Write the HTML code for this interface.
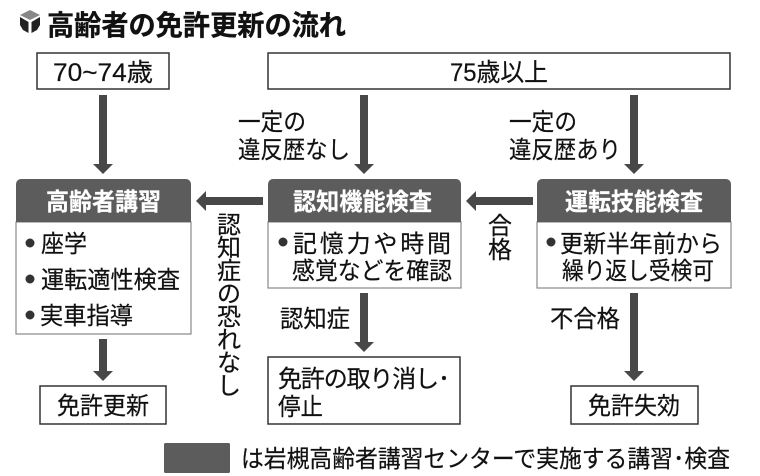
<!DOCTYPE html>
<html lang="ja">
<head>
<meta charset="utf-8">
<style>
html,body{margin:0;padding:0;background:#fff;width:760px;height:476px;overflow:hidden}
svg{display:block;filter:blur(0.3px)}
text{font-family:"Liberation Sans","Noto Sans CJK JP",sans-serif;font-size:24px;fill:#111;stroke:#111;stroke-width:0.2px}
.b{font-weight:700;stroke-width:0.3px}
.w{fill:#fff;stroke:#fff;font-weight:700;font-size:24px}
.v{text-anchor:middle}
</style>
</head>
<body>
<svg width="760" height="476" viewBox="0 0 760 476" xmlns="http://www.w3.org/2000/svg">
<!-- title -->
<polygon points="30,10 40,15 30,20 20,15" fill="#888"/>
<polygon points="20,17 28.5,22 28.5,33 23,30 20,25" fill="#222"/>
<polygon points="40,17 31.5,22 31.5,33 37,30 40,25" fill="#222"/>
<text x="47" y="35" class="b" style="font-size:28px" textLength="299" lengthAdjust="spacingAndGlyphs">高齢者の免許更新の流れ</text>

<!-- top boxes -->
<rect x="37" y="53" width="132" height="36" fill="#fff" stroke="#333" stroke-width="1.5"/>
<rect x="268" y="53" width="462" height="36" fill="#fff" stroke="#333" stroke-width="1.5"/>
<text x="53" y="81" style="font-size:25px" textLength="100" lengthAdjust="spacingAndGlyphs">70~74歳</text>
<text x="450" y="81" style="font-size:25px" textLength="98" lengthAdjust="spacingAndGlyphs">75歳以上</text>

<!-- main boxes -->
<rect x="16" y="222" width="175" height="112" fill="#fff" stroke="#888" stroke-width="1.2"/>
<path d="M16 222V184a5 5 0 0 1 5-5H186a5 5 0 0 1 5 5V222Z" fill="#5c5c5c"/>
<rect x="268" y="222" width="193" height="66" fill="#fff" stroke="#888" stroke-width="1.2"/>
<path d="M268 222V184a5 5 0 0 1 5-5H456a5 5 0 0 1 5 5V222Z" fill="#5c5c5c"/>
<rect x="537" y="222" width="194" height="66" fill="#fff" stroke="#888" stroke-width="1.2"/>
<path d="M537 222V184a5 5 0 0 1 5-5H726a5 5 0 0 1 5 5V222Z" fill="#5c5c5c"/>
<text x="46" y="210" class="w" textLength="115" lengthAdjust="spacingAndGlyphs">高齢者講習</text>
<text x="293" y="210" class="w" textLength="139" lengthAdjust="spacingAndGlyphs">認知機能検査</text>
<text x="565" y="210" class="w" textLength="138" lengthAdjust="spacingAndGlyphs">運転技能検査</text>

<!-- bullets -->
<g fill="#333">
<circle cx="30" cy="243" r="4.5"/>
<circle cx="30" cy="279" r="4.5"/>
<circle cx="30" cy="315" r="4.5"/>
<circle cx="283" cy="242" r="4.5"/>
<circle cx="551" cy="242" r="4.5"/>
</g>
<text x="41" y="252" textLength="46" lengthAdjust="spacingAndGlyphs">座学</text>
<text x="41" y="288" textLength="139" lengthAdjust="spacingAndGlyphs">運転適性検査</text>
<text x="40" y="324" textLength="93" lengthAdjust="spacingAndGlyphs">実車指導</text>
<text x="293" y="252" textLength="158">記憶力や時間</text>
<text x="292" y="279" textLength="160" lengthAdjust="spacingAndGlyphs">感覚などを確認</text>
<text x="560" y="252" textLength="162" lengthAdjust="spacingAndGlyphs">更新半年前から</text>
<text x="562" y="279" textLength="152" lengthAdjust="spacingAndGlyphs">繰り返し受検可</text>

<!-- bottom boxes -->
<rect x="40" y="386" width="126" height="38" fill="#fff" stroke="#333" stroke-width="1.5"/>
<rect x="268" y="357" width="192" height="67" fill="#fff" stroke="#333" stroke-width="1.5"/>
<rect x="571" y="386" width="127" height="38" fill="#fff" stroke="#333" stroke-width="1.5"/>
<text x="57" y="414" textLength="92" lengthAdjust="spacingAndGlyphs">免許更新</text>
<text x="278" y="387" textLength="172">免許の取り消し･</text>
<text x="278" y="415" textLength="45" lengthAdjust="spacingAndGlyphs">停止</text>
<text x="588" y="414" textLength="92" lengthAdjust="spacingAndGlyphs">免許失効</text>

<!-- arrows -->
<g fill="#484848">
<polygon points="99,95 107,95 107,164 113,164 103,174 93,164 99,164"/>
<polygon points="360,95 368,95 368,164 374,164 364,174 354,164 360,164"/>
<polygon points="630,95 638,95 638,164 644,164 634,174 624,164 630,164"/>
<polygon points="99,339 107,339 107,371 113,371 103,381 93,371 99,371"/>
<polygon points="360,293 368,293 368,342 374,342 364,352 354,342 360,342"/>
<polygon points="630,293 638,293 638,371 644,371 634,381 624,371 630,371"/>
<polygon points="263,197 263,205 206,205 206,211 196,201 206,191 206,197"/>
<polygon points="533,197 533,205 476,205 476,211 466,201 476,191 476,197"/>
</g>

<!-- connector labels -->
<text x="238" y="130" textLength="68" lengthAdjust="spacingAndGlyphs">一定の</text>
<text x="238" y="158" textLength="112" lengthAdjust="spacingAndGlyphs">違反歴なし</text>
<text x="509" y="130" textLength="68" lengthAdjust="spacingAndGlyphs">一定の</text>
<text x="509" y="158" textLength="112" lengthAdjust="spacingAndGlyphs">違反歴あり</text>
<text x="280" y="327" textLength="70" lengthAdjust="spacingAndGlyphs">認知症</text>
<text x="550" y="327" textLength="70" lengthAdjust="spacingAndGlyphs">不合格</text>

<!-- vertical labels -->
<text class="v" x="229" y="233">認</text>
<text class="v" x="229" y="256">知</text>
<text class="v" x="229" y="279">症</text>
<text class="v" x="229" y="302">の</text>
<text class="v" x="229" y="325">恐</text>
<text class="v" x="229" y="348">れ</text>
<text class="v" x="229" y="371">な</text>
<text class="v" x="229" y="394">し</text>
<text class="v" x="500" y="234">合</text>
<text class="v" x="500" y="258">格</text>

<!-- legend -->
<rect x="164" y="443" width="66" height="30" rx="1.5" fill="#5c5c5c"/>
<text x="241" y="467" textLength="489" lengthAdjust="spacingAndGlyphs">は岩槻高齢者講習センターで実施する講習･検査</text>
</svg>
</body>
</html>
